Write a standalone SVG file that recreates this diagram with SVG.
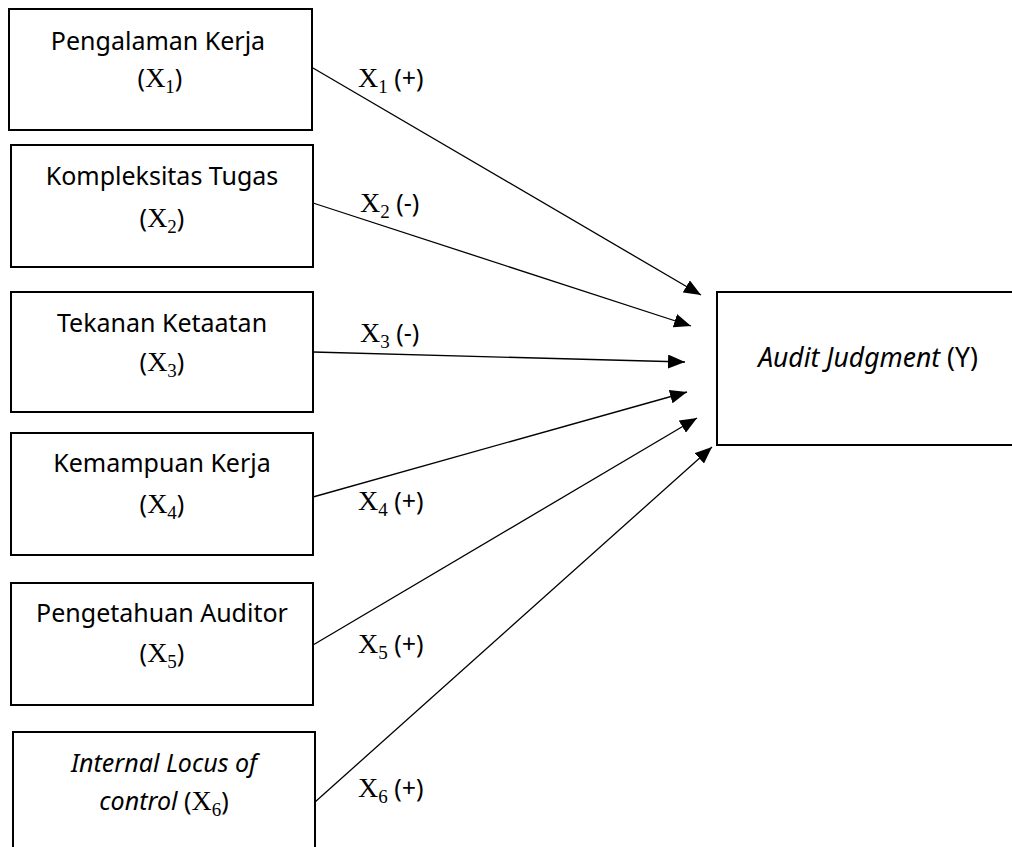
<svg xmlns="http://www.w3.org/2000/svg" width="1012" height="847" viewBox="0 0 1012 847">
<style>
.box{fill:#fff;stroke:#000;stroke-width:2}
.t{font-family:"Noto Sans","Open Sans",sans-serif;font-size:25px;fill:#000;text-anchor:middle}
.it{font-style:italic}
.m{font-family:"Liberation Serif","DejaVu Serif",serif;font-size:28px}
.sub{font-size:19px}
.lb{font-family:"Noto Sans","Open Sans",sans-serif;font-size:25px;fill:#000}
.c{stroke:#000;stroke-width:1.3;fill:none;marker-end:url(#ah)}
</style>
<defs>
<marker id="ah" markerUnits="userSpaceOnUse" markerWidth="18" markerHeight="14" refX="17" refY="7" orient="auto">
<path d="M0,0 L17,7 L0,14 Z" fill="#000"/>
</marker>
</defs>
<rect width="1012" height="847" fill="#fff"/>
<g id="n1">
<rect class="box" x="9" y="9" width="303" height="121"/>
<text class="t" x="158" y="50">Pengalaman Kerja</text>
<text class="t" x="160" y="87">(<tspan class="m">X</tspan><tspan class="m sub" dy="6">1</tspan><tspan dy="-6">)</tspan></text>
</g>
<g id="n2">
<rect class="box" x="11" y="145" width="302" height="122"/>
<text class="t" x="162" y="185">Kompleksitas Tugas</text>
<text class="t" x="162" y="227">(<tspan class="m">X</tspan><tspan class="m sub" dy="6">2</tspan><tspan dy="-6">)</tspan></text>
</g>
<g id="n3">
<rect class="box" x="11" y="292" width="302" height="120"/>
<text class="t" x="162" y="332">Tekanan Ketaatan</text>
<text class="t" x="162" y="371">(<tspan class="m">X</tspan><tspan class="m sub" dy="6">3</tspan><tspan dy="-6">)</tspan></text>
</g>
<g id="n4">
<rect class="box" x="11" y="433" width="302" height="122"/>
<text class="t" x="162" y="472">Kemampuan Kerja</text>
<text class="t" x="162" y="513">(<tspan class="m">X</tspan><tspan class="m sub" dy="6">4</tspan><tspan dy="-6">)</tspan></text>
</g>
<g id="n5">
<rect class="box" x="11" y="583" width="302" height="122"/>
<text class="t" x="162" y="622">Pengetahuan Auditor</text>
<text class="t" x="162" y="662">(<tspan class="m">X</tspan><tspan class="m sub" dy="6">5</tspan><tspan dy="-6">)</tspan></text>
</g>
<g id="n6">
<rect class="box" x="13" y="732" width="302" height="130"/>
<text class="t it" x="164" y="772">Internal Locus of</text>
<text class="t" x="164" y="810"><tspan class="it">control</tspan> (<tspan class="m">X</tspan><tspan class="m sub" dy="6">6</tspan><tspan dy="-6">)</tspan></text>
</g>
<g id="y">
<rect class="box" x="717" y="292" width="310" height="153"/>
<text class="t" x="868" y="367" style="font-size:26.5px"><tspan class="it">Audit Judgment</tspan> (Y)</text>
</g>
<g id="connectors">
<line class="c" x1="313" y1="68" x2="701" y2="295"/>
<line class="c" x1="313" y1="203" x2="691" y2="326"/>
<line class="c" x1="313" y1="352" x2="685" y2="362"/>
<line class="c" x1="313" y1="497" x2="687" y2="392"/>
<line class="c" x1="313" y1="645" x2="697" y2="418"/>
<line class="c" x1="315" y1="802" x2="712" y2="447"/>
</g>
<g id="labels">
<text class="lb" x="358" y="87"><tspan class="m">X</tspan><tspan class="m sub" dy="6">1</tspan><tspan dy="-6"> (+)</tspan></text>
<text class="lb" x="360" y="212"><tspan class="m">X</tspan><tspan class="m sub" dy="6">2</tspan><tspan dy="-6"> (-)</tspan></text>
<text class="lb" x="360" y="342"><tspan class="m">X</tspan><tspan class="m sub" dy="6">3</tspan><tspan dy="-6"> (-)</tspan></text>
<text class="lb" x="358" y="510"><tspan class="m">X</tspan><tspan class="m sub" dy="6">4</tspan><tspan dy="-6"> (+)</tspan></text>
<text class="lb" x="358" y="653"><tspan class="m">X</tspan><tspan class="m sub" dy="6">5</tspan><tspan dy="-6"> (+)</tspan></text>
<text class="lb" x="358" y="797"><tspan class="m">X</tspan><tspan class="m sub" dy="6">6</tspan><tspan dy="-6"> (+)</tspan></text>
</g>
</svg>
